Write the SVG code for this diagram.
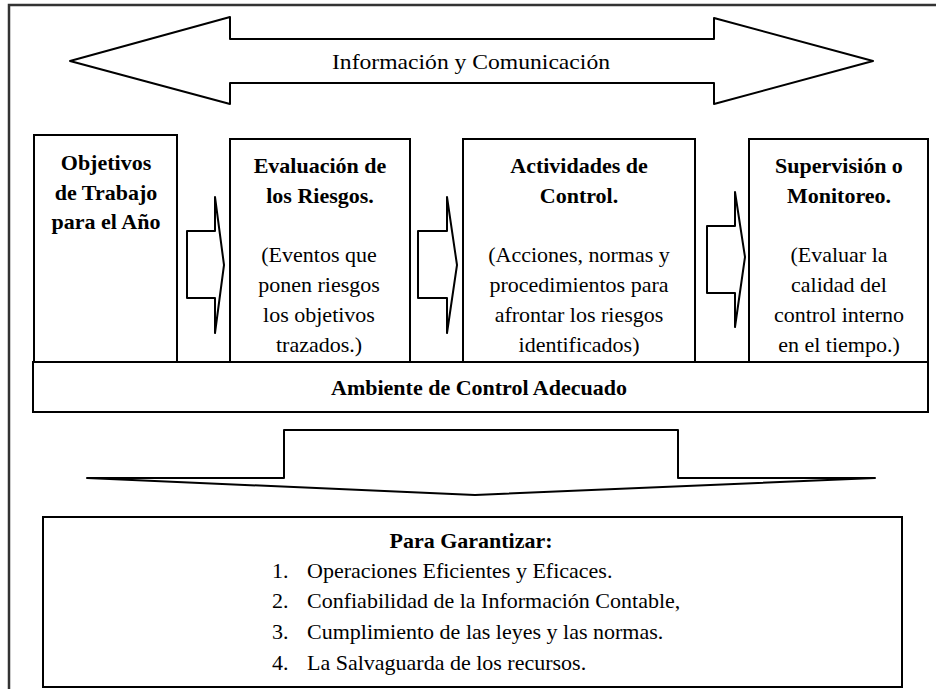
<svg xmlns="http://www.w3.org/2000/svg" width="936" height="689" viewBox="0 0 936 689">
<style>
.ln{fill:#fff;stroke:#000;stroke-width:2;stroke-linejoin:miter}
.ar{fill:#fff;stroke:#000;stroke-width:2;stroke-linejoin:round}
text{font-family:"Liberation Serif","Times New Roman",serif;font-size:22px;fill:#000;text-anchor:middle}
.b{font-weight:bold}
.l{text-anchor:start}
</style>
<rect width="936" height="689" fill="#fff"/>
<path d="M9,689 V5 H936" fill="none" stroke="#333" stroke-width="2.5"/>
<g id="connectors">
<polygon id="info-arrow" class="ar" points="70,61 230,17 230,39 714,39 714,18 873,61 714,104 714,83 230,83 230,104"/>
<polygon id="arrow1" class="ar" points="187,231 215,231 215,197 224,265 215,333 215,298 187,298"/>
<polygon id="arrow2" class="ar" points="418,231 447,231 447,197 457,265 447,333 447,298 418,298"/>
<polygon id="arrow3" class="ar" points="707,226 735,226 735,192 745,257 735,327 735,293 707,293"/>
<polygon id="down-arrow" class="ar" points="284,430 678,430 678,478 875,478 475,495 87,478 284,478"/>
</g>
<text x="471" y="69" font-size="24" textLength="278" lengthAdjust="spacingAndGlyphs">Información y Comunicación</text>
<g id="objetivos">
<rect class="ln" x="34" y="135" width="143" height="227"/>
<text class="b" x="106" y="170">Objetivos</text>
<text class="b" x="106" y="200">de Trabajo</text>
<text class="b" x="106" y="229">para el Año</text>
</g>
<g id="evaluacion">
<rect class="ln" x="230" y="139" width="180" height="223"/>
<text class="b" x="320" y="173">Evaluación de</text>
<text class="b" x="320" y="203">los Riesgos.</text>
<text x="319" y="262">(Eventos que</text>
<text x="319" y="292">ponen riesgos</text>
<text x="319" y="322">los objetivos</text>
<text x="319" y="352">trazados.)</text>
</g>
<g id="actividades">
<rect class="ln" x="463" y="139" width="232" height="223"/>
<text class="b" x="579" y="173">Actividades de</text>
<text class="b" x="579" y="203">Control.</text>
<text x="579" y="262">(Acciones, normas y</text>
<text x="579" y="292">procedimientos para</text>
<text x="579" y="322">afrontar los riesgos</text>
<text x="579" y="352">identificados)</text>
</g>
<g id="supervision">
<rect class="ln" x="749" y="139" width="179" height="223"/>
<text class="b" x="839" y="173">Supervisión o</text>
<text class="b" x="839" y="203">Monitoreo.</text>
<text x="839" y="262">(Evaluar la</text>
<text x="839" y="292">calidad del</text>
<text x="839" y="322">control interno</text>
<text x="839" y="352">en el tiempo.)</text>
</g>
<g id="ambiente">
<rect class="ln" x="33" y="362" width="895" height="50"/>
<text class="b" x="479" y="395">Ambiente de Control Adecuado</text>
</g>
<g id="garantizar">
<rect class="ln" x="43" y="517" width="859" height="170"/>
<text class="b" x="471" y="548">Para Garantizar:</text>
<text class="l" x="272" y="578">1.</text>
<text class="l" x="307" y="578">Operaciones Eficientes y Eficaces.</text>
<text class="l" x="272" y="608">2.</text>
<text class="l" x="307" y="608">Confiabilidad de la Información Contable,</text>
<text class="l" x="272" y="639">3.</text>
<text class="l" x="307" y="639">Cumplimiento de las leyes y las normas.</text>
<text class="l" x="272" y="670">4.</text>
<text class="l" x="307" y="670">La Salvaguarda de los recursos.</text>
</g>
</svg>
